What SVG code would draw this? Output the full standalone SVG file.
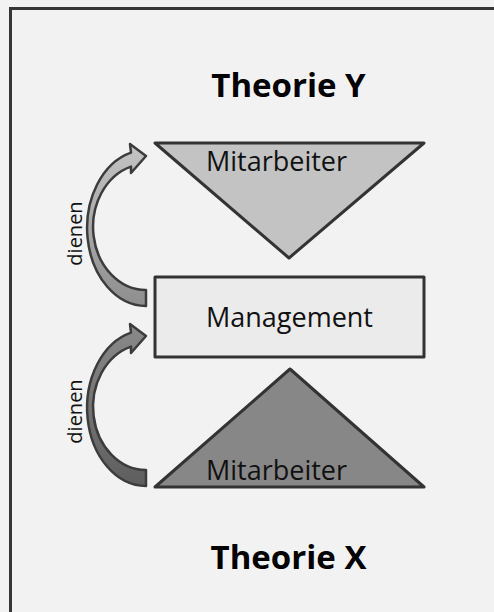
<svg xmlns="http://www.w3.org/2000/svg" width="494" height="612" viewBox="0 0 494 612">
  <style>
    .shape { stroke: #333333; stroke-width: 3; stroke-linejoin: round; }
    .lbl { font-family: "Open Sans", "Liberation Sans", sans-serif; font-size: 27px; fill: #111111; text-anchor: middle; }
    .title { font-family: "Open Sans", "Liberation Sans", sans-serif; font-size: 33px; font-weight: bold; fill: #000000; text-anchor: middle; }
    .side { font-family: "Open Sans", "Liberation Sans", sans-serif; font-size: 20px; fill: #111111; text-anchor: middle; }
    .arrow { stroke: #3c3c3c; stroke-width: 2.5; stroke-linejoin: round; }
  </style>
  <defs>
    <linearGradient id="gUp" x1="0" y1="0" x2="0" y2="1">
      <stop offset="0" stop-color="#c4c4c4"/>
      <stop offset="1" stop-color="#8e8e8e"/>
    </linearGradient>
    <linearGradient id="gLow" x1="0" y1="0" x2="0" y2="1">
      <stop offset="0" stop-color="#8a8a8a"/>
      <stop offset="1" stop-color="#5e5e5e"/>
    </linearGradient>
    <path id="curved" d="M146,306 A59,78 0 0 1 131,152.6 L130,144 L146,156 L131,173 L131,166.6 A53,63 0 0 0 146,290 Z"/>
  </defs>

  <rect x="0" y="0" width="494" height="612" fill="#f2f2f2"/>
  <g id="frame">
    <rect x="10.5" y="8.5" width="520" height="640" fill="#f2f2f2" stroke="#363636" stroke-width="3"/>
  </g>

  <g id="title-y">
    <text class="title" x="288.5" y="97">Theorie Y</text>
  </g>

  <g id="mitarbeiter-y">
    <polygon class="shape" points="155,143 424,143 289,258" fill="#c3c3c3"/>
    <text class="lbl" x="276.5" y="171">Mitarbeiter</text>
  </g>

  <g id="management">
    <rect class="shape" x="155" y="277" width="269" height="80" fill="#ebebeb"/>
    <text class="lbl" x="289.5" y="327">Management</text>
  </g>

  <g id="mitarbeiter-x">
    <polygon class="shape" points="290,369 424,487 155,487" fill="#878787"/>
    <text class="lbl" x="276.5" y="480">Mitarbeiter</text>
  </g>

  <g id="title-x">
    <text class="title" x="288.5" y="569">Theorie X</text>
  </g>

  <g id="connectors">
    <g id="dienen-upper">
      <use href="#curved" class="arrow" fill="url(#gUp)"/>
      <text class="side" transform="translate(82,233.5) rotate(-90)">dienen</text>
    </g>
    <g id="dienen-lower">
      <use href="#curved" class="arrow" fill="url(#gLow)" transform="translate(0,180)"/>
      <text class="side" transform="translate(82,411.5) rotate(-90)">dienen</text>
    </g>
  </g>
</svg>
